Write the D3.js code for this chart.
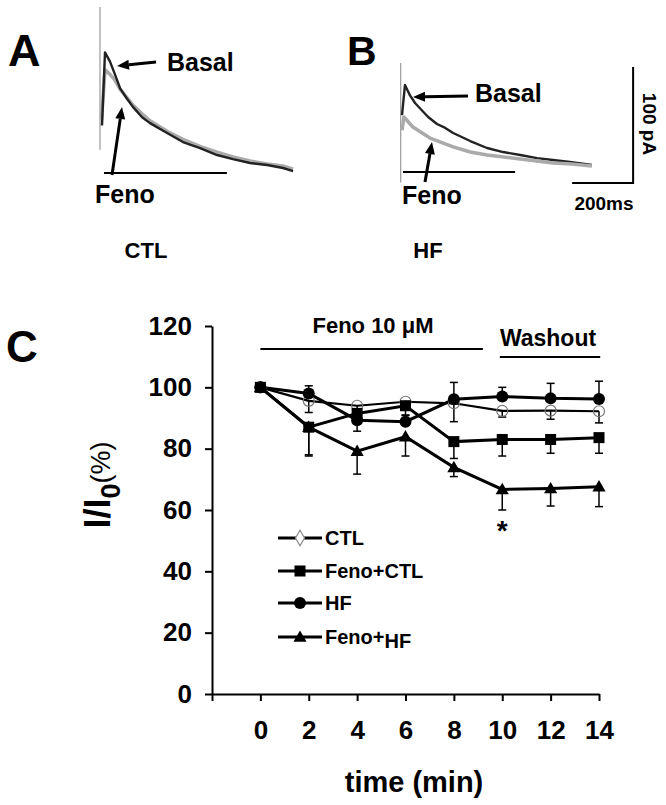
<!DOCTYPE html>
<html><head><meta charset="utf-8">
<script src="https://cdn.jsdelivr.net/npm/d3@7"></script>
<style>
body{margin:0;background:#fff}
svg{display:block}
text{font-family:"Liberation Sans",Arial,Helvetica,sans-serif;font-weight:bold;fill:#000}
</style>
</head><body>
<svg id="c" width="666" height="805"></svg>
<script>
// ---------- Panel C data ----------
const time = [0, 2, 4, 6, 8, 10, 12, 14];
const ctl      = [100, 95.6, 94.0, 95.3, 94.8, 92.3, 92.4, 92.2];
const ctlErr   = [0, 3.8, 3.0, 2.0, 6.0, 2.0, 2.8, 3.8];      // minus
const fenoCtl  = [100, 87.0, 91.5, 94.0, 82.3, 83.0, 83.0, 83.6];
const fenoCtlErr = [0, 9.4, 5.8, 3.0, 5.5, 5.4, 4.5, 5.1];     // minus
const hf       = [100, 98.0, 89.3, 88.8, 96.1, 97.0, 96.4, 96.2];
const hfErr    = [0, 2.5, 2.0, 2.0, 5.5, 3.0, 4.9, 5.8];       // plus
const fenoHf   = [100, 87.0, 79.2, 83.9, 73.9, 66.7, 67.0, 67.6];
const fenoHfErr = [0, 9.0, 7.5, 6.3, 3.0, 6.7, 5.7, 6.5];      // minus
const yTicks = [0, 20, 40, 60, 80, 100, 120];
const xTicks = [-2, 0, 2, 4, 6, 8, 10, 12, 14];
const legendNames = ["CTL", "Feno+CTL", "HF", "Feno+HF"];

// ---------- Panel A / B traces: [ms, pA] ----------
const basalA = [[6.6,41],[16.4,104],[32.8,96],[49,85],[66,73],[88.5,64],[108,57],[138,48],[164,43],[220,34.5],[272,26.7],[328,21.5],[384,15.5],[436,12],[492,8.6],[548,6.9],[600,4.3],[633,1.7]];
const fenoA  = [[5,46],[16.4,89],[32.8,85],[49,80],[66,72],[88.5,65],[108,58.6],[138,51],[164,45],[220,36],[272,29],[328,23],[384,18],[436,13.8],[492,10.3],[548,7.8],[600,6],[633,3.4]];
const basalB = [[4.3,49],[14,75],[30.5,66],[47,59.5],[63,55],[90,47.4],[119,41.4],[146,38],[172,33.6],[228,26.7],[283,20.7],[336,17.2],[392,14.7],[447,12],[499,10.3],[555,8.6],[627,6]];
const fenoB  = [[4.3,36],[10.5,47.4],[40,38.8],[96,29.3],[172,21.6],[228,17.2],[283,14.7],[392,11.2],[499,7.8],[560,6.8],[627,5.2]];
const spikeA = [143, 20];
const spikeB = [94, -9];

const svg = d3.select("#c");

// ---------- traces ----------
function tracePanel(xs, ys, black, gray, spike, baseRange, grayFirst) {
  const g = svg.append("g");
  const line = d3.line().x(d => xs(d[0])).y(d => ys(d[1]));
  g.append("line").attr("x1", xs(0)).attr("x2", xs(0)).attr("y1", ys(spike[0])).attr("y2", ys(spike[1]))
    .attr("stroke", "#999").attr("stroke-width", 1.2);
  g.append("line").attr("x1", xs(baseRange[0])).attr("x2", xs(baseRange[1])).attr("y1", ys(0)).attr("y2", ys(0))
    .attr("stroke", "#000").attr("stroke-width", 2);
  const drawGray = () => g.append("path").attr("d", line(gray)).attr("fill", "none").attr("stroke", "#aaa").attr("stroke-width", 3.5).attr("stroke-linejoin", "round");
  const drawBlack = () => g.append("path").attr("d", line(black)).attr("fill", "none").attr("stroke", "#222").attr("stroke-width", 2.4).attr("stroke-linejoin", "round");
  if (grayFirst) { drawGray(); drawBlack(); } else { drawBlack(); drawGray(); }
  return g;
}
function arrow(g, x1, y1, x2, y2) {
  const a = Math.atan2(y2 - y1, x2 - x1), L = 12, W = 5;
  const bx = x2 - L * Math.cos(a), by = y2 - L * Math.sin(a);
  g.append("line").attr("x1", x1).attr("y1", y1).attr("x2", bx).attr("y2", by).attr("stroke", "#000").attr("stroke-width", 3);
  g.append("path").attr("d", `M${x2},${y2}L${bx + W*Math.sin(a)},${by - W*Math.cos(a)}L${bx - W*Math.sin(a)},${by + W*Math.cos(a)}Z`).attr("fill", "#000");
}

const xA = d3.scaleLinear().domain([0, 200]).range([100, 161]);
const yA = d3.scaleLinear().domain([0, 100]).range([173, 57]);
const gA = tracePanel(xA, yA, basalA, fenoA, spikeA, [13, 416], true);
arrow(gA, 156, 62, 117, 66);
arrow(gA, 112, 175, 122, 107);
gA.append("text").attr("x", 8).attr("y", 66).attr("font-size", 45).text("A");
gA.append("text").attr("x", 167).attr("y", 71).attr("font-size", 25).text("Basal");
gA.append("text").attr("x", 95).attr("y", 203).attr("font-size", 25).text("Feno");
gA.append("text").attr("x", 146).attr("y", 258).attr("font-size", 22).attr("text-anchor", "middle").text("CTL");

const xB = d3.scaleLinear().domain([0, 200]).range([400.7, 461.7]);
const yB = d3.scaleLinear().domain([0, 100]).range([172, 56]);
const gB = tracePanel(xB, yB, basalB, fenoB, spikeB, [7.5, 375], false);
arrow(gB, 468, 96, 413, 97);
arrow(gB, 425, 182, 432, 142);
gB.append("text").attr("x", 347).attr("y", 65).attr("font-size", 41).text("B");
gB.append("text").attr("x", 475).attr("y", 102).attr("font-size", 25).text("Basal");
gB.append("text").attr("x", 402).attr("y", 204).attr("font-size", 25).text("Feno");
gB.append("text").attr("x", 428).attr("y", 258).attr("font-size", 22).attr("text-anchor", "middle").text("HF");
// scale bar
gB.append("path").attr("d", `M${xB(562)},${yB(-9.5)}H${xB(762)}V${yB(90.5)}`).attr("fill", "none").attr("stroke", "#000").attr("stroke-width", 2);
gB.append("text").attr("x", 604).attr("y", 210).attr("font-size", 19).attr("text-anchor", "middle").text("200ms");
gB.append("text").attr("transform", "translate(643,124) rotate(90)").attr("font-size", 19).attr("text-anchor", "middle").text("100 pA");

// ---------- Panel C ----------
const x = d3.scaleLinear().domain([-2, 14]).range([212, 599]);
const y = d3.scaleLinear().domain([0, 120]).range([694, 326]);
const gC = svg.append("g");

const ya = gC.append("g").attr("transform", `translate(${x(-2)},0)`)
  .call(d3.axisLeft(y).tickValues(yTicks).tickSize(7).tickSizeOuter(0).tickPadding(13));
ya.selectAll("text").attr("font-size", 26).attr("font-family", null).style("font-weight", "bold");
const xa = gC.append("g").attr("transform", `translate(0,${y(0)})`)
  .call(d3.axisBottom(x).tickValues(xTicks).tickSize(7).tickSizeOuter(0).tickPadding(20).tickFormat(d => d < 0 ? "" : d));
xa.selectAll("text").attr("font-size", 26).attr("font-family", null).style("font-weight", "bold");
gC.selectAll(".domain, .tick line").attr("stroke", "#000").attr("stroke-width", 2);

gC.append("text").attr("x", 6).attr("y", 362).attr("font-size", 44).text("C");
gC.append("text").attr("x", 414).attr("y", 792).attr("font-size", 29).attr("text-anchor", "middle").text("time (min)");
const yl = gC.append("text").attr("transform", "translate(110,485) rotate(-90)").attr("text-anchor", "middle");
yl.append("tspan").attr("font-size", 36).text("I/I");
yl.append("tspan").attr("font-size", 27).attr("dy", 10).text("0");
yl.append("tspan").attr("font-size", 27).attr("dy", -10).style("font-weight", "normal").text("(%)");

// annotations
gC.append("text").attr("x", 373).attr("y", 333).attr("font-size", 22).attr("text-anchor", "middle").text("Feno 10 μM");
gC.append("line").attr("x1", x(0)).attr("x2", x(9.2)).attr("y1", 349).attr("y2", 349).attr("stroke", "#000").attr("stroke-width", 2);
gC.append("text").attr("x", 548).attr("y", 346).attr("font-size", 23).attr("text-anchor", "middle").text("Washout");
gC.append("line").attr("x1", x(9.9)).attr("x2", x(14.05)).attr("y1", 357).attr("y2", 357).attr("stroke", "#000").attr("stroke-width", 2);
gC.append("text").attr("x", x(10)).attr("y", 540).attr("font-size", 28).attr("text-anchor", "middle").text("*");

// series
const series = [
  {name: legendNames[0], vals: ctl, err: ctlErr, dir: -1, sym: "ocircle", lw: 2.2},
  {name: legendNames[1], vals: fenoCtl, err: fenoCtlErr, dir: -1, sym: "square", lw: 3},
  {name: legendNames[2], vals: hf, err: hfErr, dir: 1, sym: "circle", lw: 3},
  {name: legendNames[3], vals: fenoHf, err: fenoHfErr, dir: -1, sym: "triangle", lw: 3},
];
function marker(g, sym, cx, cy, legend) {
  if (sym === "ocircle") {
    if (legend) {
      g.append("path").attr("d", d3.symbol(d3.symbolDiamond, 70)()).attr("transform", `translate(${cx},${cy})`).attr("fill", "#fff").attr("stroke", "#888").attr("stroke-width", 1.2);
    } else {
      g.append("circle").attr("cx", cx).attr("cy", cy).attr("r", 5.5).attr("fill", "none").attr("stroke", "#777").attr("stroke-width", 1.2);
    }
  } else if (sym === "square") {
    g.append("rect").attr("x", cx - 5.5).attr("y", cy - 5.5).attr("width", 11).attr("height", 11).attr("fill", "#000");
  } else if (sym === "circle") {
    g.append("circle").attr("cx", cx).attr("cy", cy).attr("r", 6).attr("fill", "#000");
  } else {
    g.append("path").attr("d", d3.symbol(d3.symbolTriangle, 75)()).attr("transform", `translate(${cx},${cy + 1})`).attr("fill", "#000");
  }
}
const line = d3.line().x((d, i) => x(time[i])).y(d => y(d));
series.forEach(s => {
  const g = gC.append("g");
  s.vals.forEach((v, i) => {
    if (!s.err[i]) return;
    const e = v + s.dir * s.err[i];
    g.append("line").attr("x1", x(time[i])).attr("x2", x(time[i])).attr("y1", y(v)).attr("y2", y(e)).attr("stroke", "#000").attr("stroke-width", 1.5);
    g.append("line").attr("x1", x(time[i]) - 4).attr("x2", x(time[i]) + 4).attr("y1", y(e)).attr("y2", y(e)).attr("stroke", "#000").attr("stroke-width", 1.5);
  });
  g.append("path").attr("d", line(s.vals)).attr("fill", "none").attr("stroke", "#000").attr("stroke-width", s.lw);
});
series.forEach(s => {
  const g = gC.append("g");
  s.vals.forEach((v, i) => marker(g, s.sym, x(time[i]), y(v), false));
});

// legend
const legY = [538, 571, 603, 637];
series.forEach((s, i) => {
  const g = gC.append("g");
  g.append("line").attr("x1", 278).attr("x2", 322).attr("y1", legY[i]).attr("y2", legY[i]).attr("stroke", "#000").attr("stroke-width", 3);
  marker(g, s.sym, 300, legY[i], true);
  const t = g.append("text").attr("x", 325).attr("y", legY[i] + 7).attr("font-size", 20);
  if (s.name === "Feno+HF") {
    t.append("tspan").text("Feno+");
    t.append("tspan").attr("dy", 4).text("HF");
  } else t.text(s.name);
});
</script>
</body></html>
